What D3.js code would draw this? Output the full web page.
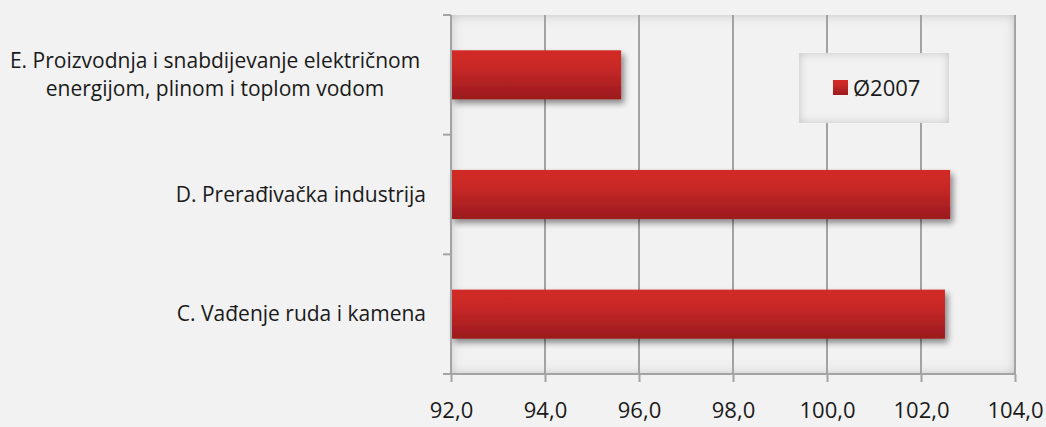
<!DOCTYPE html>
<html>
<head>
<meta charset="utf-8">
<script src="https://cdn.jsdelivr.net/npm/d3@7"></script>
<style>
  body { margin: 0; background: #f2f2f2; }
  svg { display: block; }
  text { font-family: "Open Sans", Lato, sans-serif; fill: #1a1a1a; }
</style>
</head>
<body>
<svg id="chart"></svg>
<script>
// data
const categories = [
    ["E. Proizvodnja i snabdijevanje električnom", "energijom, plinom i toplom vodom"],
    ["D. Prerađivačka industrija"],
    ["C. Vađenje ruda i kamena"]
];
const values2007 = [95.62, 102.62, 102.51];
const seriesName = "Ø2007";
const xTicks = [92, 94, 96, 98, 100, 102, 104];

const W = 1046, H = 427;
const margin = { top: 15, right: 31, bottom: 53, left: 451 };
const width = W - margin.left - margin.right,
    height = H - margin.top - margin.bottom;

const svg = d3.select("#chart").attr("width", W).attr("height", H);
const defs = svg.append("defs");

// bar gradient
const grad = defs.append("linearGradient").attr("id", "barGrad")
    .attr("x1", 0).attr("y1", 0).attr("x2", 0).attr("y2", 1);
grad.append("stop").attr("offset", "0%").attr("stop-color", "#d22b28");
grad.append("stop").attr("offset", "35%").attr("stop-color", "#c92827");
grad.append("stop").attr("offset", "100%").attr("stop-color", "#9a1a1e");

// drop shadow
const shadow = defs.append("filter").attr("id", "shadow")
    .attr("x", "-5%").attr("y", "-20%").attr("width", "115%").attr("height", "150%");
shadow.append("feGaussianBlur").attr("in", "SourceAlpha").attr("stdDeviation", 3);
shadow.append("feOffset").attr("dx", 3).attr("dy", 4).attr("result", "off");
shadow.append("feComponentTransfer").append("feFuncA").attr("type", "linear").attr("slope", 0.45);
const merge = shadow.append("feMerge");
merge.append("feMergeNode");
merge.append("feMergeNode").attr("in", "SourceGraphic");

// inner shadow for plot area and legend box
function innerShadow(id, blur) {
    const f = defs.append("filter").attr("id", id);
    f.append("feFlood").attr("flood-color", "#bdbdbd").attr("result", "c");
    f.append("feComposite").attr("in", "c").attr("in2", "SourceAlpha").attr("operator", "out").attr("result", "inv");
    f.append("feGaussianBlur").attr("in", "inv").attr("stdDeviation", blur).attr("result", "b");
    f.append("feComposite").attr("in", "b").attr("in2", "SourceAlpha").attr("operator", "in").attr("result", "s");
    const m = f.append("feMerge");
    m.append("feMergeNode").attr("in", "SourceGraphic");
    m.append("feMergeNode").attr("in", "s");
}
innerShadow("inner", 6);
innerShadow("innerLegend", 5);

const g = svg.append("g").attr("transform", `translate(${margin.left},${margin.top})`);

const x = d3.scaleLinear().domain([92, 104]).range([0, width]);
const y = d3.scaleBand().domain(d3.range(categories.length)).range([0, height])
    .paddingInner(0.59).paddingOuter(0.295);
const yBound = d3.scaleLinear().domain([0, categories.length]).range([0, height]);

// plot area
g.append("rect").attr("width", width).attr("height", height)
    .attr("fill", "#f2f2f2").attr("filter", "url(#inner)");

// vertical gridlines
g.append("g").selectAll("line")
    .data(xTicks.slice(1))
    .join("line")
    .attr("x1", d => x(d)).attr("x2", d => x(d))
    .attr("y1", 0).attr("y2", height)
    .attr("stroke", "#a3a3a3").attr("stroke-width", 2);

// bars
g.append("g").selectAll("rect")
    .data(values2007)
    .join("rect")
    .attr("x", x(92))
    .attr("y", (d, i) => y(i))
    .attr("width", d => x(d) - x(92))
    .attr("height", y.bandwidth())
    .attr("fill", "url(#barGrad)")
    .attr("filter", "url(#shadow)");

// bottom axis
const xAxis = g.append("g").attr("transform", `translate(0,${height})`)
    .call(d3.axisBottom(x).tickValues(xTicks).tickSize(8).tickPadding(20)
        .tickFormat(d => d3.format(".1f")(d).replace(".", ",")));
xAxis.select(".domain").attr("stroke", "#a3a3a3").attr("stroke-width", 2)
    .attr("d", `M-8,0H${width}`);
xAxis.selectAll(".tick line").attr("stroke", "#a3a3a3").attr("stroke-width", 2);
xAxis.selectAll(".tick text").style("font-size", "22px").attr("fill", "#1a1a1a");

// left axis
const yAxis = g.append("g");
yAxis.append("line").attr("x1", 0).attr("x2", 0).attr("y1", 0).attr("y2", height)
    .attr("stroke", "#a3a3a3").attr("stroke-width", 2);
yAxis.selectAll(".ytick")
    .data(d3.range(categories.length + 1))
    .join("line")
    .attr("class", "ytick")
    .attr("x1", -8).attr("x2", 0)
    .attr("y1", d => yBound(d)).attr("y2", d => yBound(d))
    .attr("stroke", "#a3a3a3").attr("stroke-width", 2);

// category labels
const lab = g.append("g").selectAll("text")
    .data(categories)
    .join("text")
    .attr("text-anchor", "middle")
    .style("font-size", "21px")
    .attr("x", -236)
    .attr("y", (d, i) => y(i) + y.bandwidth() / 2 - (d.length - 1) * 14 + 7);
lab.selectAll("tspan")
    .data(d => d)
    .join("tspan")
    .attr("x", -236)
    .attr("dy", (d, i) => i === 0 ? 0 : 28)
    .text(d => d);
// single-line labels are right aligned to the axis
lab.filter(d => d.length === 1).attr("text-anchor", "end")
    .selectAll("tspan").attr("x", -25);

// legend
const legend = svg.append("g").attr("transform", "translate(799,53)");
legend.append("rect").attr("width", 150).attr("height", 70)
    .attr("fill", "#f2f2f2").attr("filter", "url(#innerLegend)");
legend.append("rect").attr("x", 34).attr("y", 27).attr("width", 15).attr("height", 15)
    .attr("fill", "url(#barGrad)");
legend.append("text").attr("x", 54).attr("y", 43)
    .style("font-size", "22px").text(seriesName);
</script>
</body>
</html>
